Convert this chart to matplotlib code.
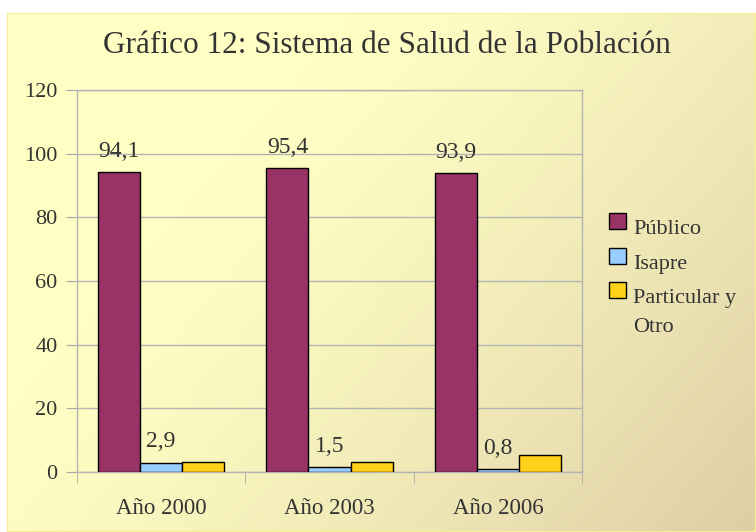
import matplotlib
matplotlib.use("Agg")
import matplotlib.pyplot as plt
import numpy as np
from matplotlib.patches import Rectangle

years = ["Año 2000", "Año 2003", "Año 2006"]
series_names = ["Público", "Isapre", "Particular y\nOtro"]
publico = [94.1, 95.4, 93.9]
isapre = [2.9, 1.5, 0.8]
particular = [3.0, 3.1, 5.3]
y_ticks = [0, 20, 40, 60, 80, 100, 120]

colors = ["#993366", "#99CCFF", "#FFD21A"]
text_color = "#333333"
font = "Liberation Serif"

plt.rcParams["font.family"] = [font, "DejaVu Serif"]

W, H = 756, 532
fig = plt.figure(figsize=(W / 100, H / 100), dpi=100)
fig.patch.set_facecolor("white")


def fx(px):
    return px / W


def fy(py):
    return 1 - py / H


# gradient background of the chart area
bg = fig.add_axes([fx(7), 0, 1 - fx(7), (H - 13) / H], zorder=0)
yy, xx = np.mgrid[0:1:200j, 0:1:300j]
t = np.clip((0.75 * xx + 0.45 * yy - 0.35) / 0.85, 0, 1) ** 1.3
c0 = np.array([255, 255, 196]) / 255
c1 = np.array([222, 206, 166]) / 255
img = c0[None, None, :] * (1 - t[..., None]) + c1[None, None, :] * t[..., None]
bg.imshow(img, aspect="auto", extent=[0, 1, 0, 1], origin="upper")
bg.add_patch(Rectangle((0, 0), 1, 1, fill=False, edgecolor="#F8F090", linewidth=1.5, transform=bg.transAxes))
bg.set_axis_off()

ax = fig.add_axes([fx(77), fy(472), fx(582 - 77), (472 - 90) / H], zorder=1)
ax.patch.set_alpha(0)

x = np.arange(len(years))
bw = 0.25
series = [publico, isapre, particular]
for i, (vals, col) in enumerate(zip(series, colors)):
    pos = x + (i - 1) * bw
    ax.bar(pos, vals, width=bw, color=col, edgecolor="black", linewidth=1, zorder=3)
    if i < 2:
        for p, v in zip(pos, vals):
            ax.annotate(f"{v:.1f}".replace(".", ","), (p, v), xytext=(0, 11), textcoords="offset points",
                        ha="center", va="baseline", fontsize=17, color=text_color)

ax.set_xlim(-0.5, 2.5)
ax.set_ylim(0, 120)
ax.set_yticks(y_ticks)
ax.set_yticklabels([str(v) for v in y_ticks], fontsize=16, color=text_color)
ax.set_xticks(x)
ax.set_xticklabels(years, fontsize=16.5, color=text_color)
ax.set_xticks([-0.5, 0.5, 1.5, 2.5], minor=True)
ax.tick_params(axis="x", which="major", length=0, pad=19)
ax.tick_params(axis="x", which="minor", length=8, color="#A8A8A8", direction="out")
ax.tick_params(axis="y", length=8, color="#A8A8A8", direction="out", pad=6)
ax.grid(axis="y", color="#B4B4B4", linewidth=1, zorder=0)
for s in ax.spines.values():
    s.set_color("#B4B4B4")
    s.set_linewidth(1)

fig.text(fx(387), fy(53), "Gráfico 12: Sistema de Salud de la Población", fontsize=22.5,
         color=text_color, ha="center", va="baseline")

# legend (box top and first-line baseline per entry)
box_tops = [213, 248, 282]
baselines = [233, 268, 302]
for name, col, top, base in zip(series_names, colors, box_tops, baselines):
    fig.add_artist(Rectangle((fx(609), fy(top + 16)), fx(17), 16 / H, facecolor=col,
                             edgecolor="black", linewidth=1, transform=fig.transFigure))
    fig.text(fx(633), fy(base - 13), name, fontsize=16, color=text_color, ha="left", va="top",
             linespacing=1.75)

fig.savefig("out.png", dpi=100)
